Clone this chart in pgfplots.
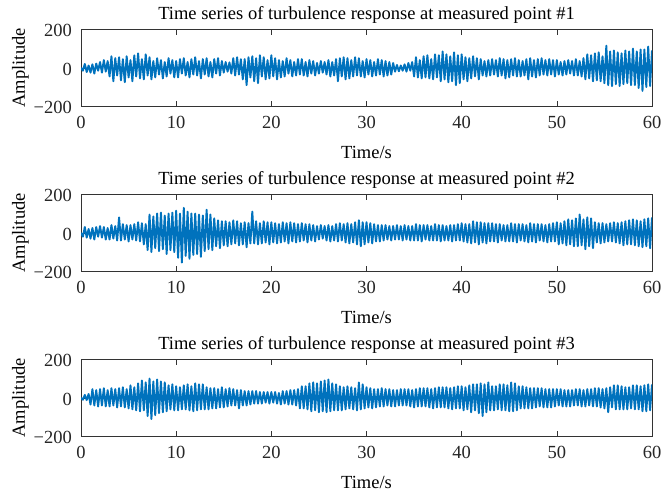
\documentclass[border=0pt]{standalone}
\usepackage{fontspec}
\setmainfont{Liberation Serif}
\usepackage{pgfplots}
\pgfplotsset{compat=1.18}
\definecolor{mblue}{rgb}{0,0.447,0.741}
\definecolor{axgray}{rgb}{0.2,0.2,0.2}
\pgfplotsset{myax/.style={
  width=571pt, height=77pt, scale only axis,
  anchor=north west,
  xmin=0, xmax=60, ymin=-200, ymax=200,
  xtick={0,10,20,30,40,50,60}, xticklabels={0,10,20,30,40,50,60},
  ytick={-200,0,200}, yticklabels={−200,0,200},
  /pgf/number format/assume math mode=true,
  tick align=inside, major tick length=5.5pt,
  axis line style={axgray, line width=0.8pt},
  tick style={axgray, line width=0.6pt},
  font=\fontsize{18.5}{21}\selectfont,
  tick label style={text=black!85},
  xticklabel style={anchor=base, inner sep=0pt, yshift=-22pt},
  yticklabel style={anchor=east, inner sep=0pt, xshift=-9pt, yshift=-1.5pt},
  title style={at={(axis description cs:0.5,1)}, anchor=base, yshift=4.3pt},
  xlabel style={at={(axis description cs:0.5,0)}, anchor=base, yshift=-52.3pt},
  ylabel style={at={([xshift=-56pt]axis description cs:0,0.5)}, anchor=base},
  xlabel={Time/s}, ylabel={Amplitude},
}, sig/.style={mblue, no markers, line width=1.9pt, line join=round}}
\begin{document}
\begin{tikzpicture}
\path[use as bounding box] (0pt,0pt) rectangle (661pt,-496pt);
\begin{axis}[myax, at={(81pt,-29.3pt)}, title={Time series of turbulence response at measured point \#1}]
\addplot[sig] table[x expr=\coordindex*0.2, y index=0, header=false, row sep=\\] {
0\\ -15\\ 20\\ -22\\ 12\\
-25\\ 18\\ -30\\ 22\\ -15\\
30\\ -25\\ 40\\ -20\\ 35\\
-45\\ 60\\ -70\\ 50\\ -40\\
55\\ -65\\ 45\\ -75\\ 60\\
-50\\ 40\\ -70\\ 65\\ -45\\
75\\ -55\\ 45\\ -60\\ 70\\
-40\\ 55\\ -60\\ 35\\ -50\\
50\\ -35\\ 40\\ -55\\ 30\\
-45\\ 50\\ -30\\ 40\\ -50\\
35\\ -50\\ 45\\ -30\\ 50\\
-40\\ 30\\ -50\\ 45\\ -35\\
55\\ -40\\ 35\\ -55\\ 45\\
-35\\ 50\\ -45\\ 30\\ -50\\
45\\ -30\\ 50\\ -40\\ 35\\
-25\\ 30\\ -20\\ 28\\ -30\\
50\\ -40\\ 55\\ -35\\ 45\\
-60\\ 45\\ -90\\ 55\\ -50\\
60\\ -70\\ 50\\ -80\\ 65\\
-45\\ 55\\ -60\\ 40\\ -55\\
65\\ -45\\ 50\\ -60\\ 40\\
-50\\ 35\\ -45\\ 50\\ -30\\
40\\ -45\\ 30\\ -40\\ 45\\
-35\\ 45\\ -40\\ 30\\ -45\\
40\\ -30\\ 35\\ -40\\ 25\\
-30\\ 35\\ -25\\ 30\\ -35\\
40\\ -45\\ 30\\ -40\\ 45\\
-70\\ 50\\ -45\\ 55\\ -60\\
50\\ -55\\ 40\\ -45\\ 55\\
-40\\ 50\\ -45\\ 35\\ -50\\
45\\ -35\\ 40\\ -45\\ 30\\
-40\\ 45\\ -35\\ 40\\ -45\\
35\\ -40\\ 30\\ -35\\ 25\\
-20\\ 15\\ -18\\ 12\\ -15\\
18\\ -20\\ 25\\ -15\\ 30\\
-45\\ 55\\ -50\\ 40\\ -55\\
60\\ -50\\ 65\\ -55\\ 45\\
-60\\ 70\\ -50\\ 65\\ -70\\
85\\ -60\\ 70\\ -75\\ 60\\
-70\\ 80\\ -90\\ 65\\ -80\\
70\\ -60\\ 55\\ -70\\ 50\\
-55\\ 60\\ -45\\ 50\\ -60\\
45\\ -40\\ 35\\ -45\\ 40\\
-40\\ 45\\ -35\\ 40\\ -45\\
50\\ -40\\ 45\\ -55\\ 40\\
-50\\ 45\\ -40\\ 50\\ -45\\
40\\ -45\\ 35\\ -40\\ 45\\
-60\\ 50\\ -45\\ 40\\ -50\\
45\\ -40\\ 50\\ -35\\ 40\\
-40\\ 45\\ -35\\ 40\\ -45\\
40\\ -35\\ 30\\ -40\\ 35\\
-35\\ 40\\ -30\\ 35\\ -40\\
45\\ -40\\ 35\\ -45\\ 50\\
-60\\ 70\\ -55\\ 65\\ -70\\
75\\ -65\\ 80\\ -70\\ 60\\
-80\\ 115\\ -90\\ 85\\ -95\\
90\\ -85\\ 80\\ -95\\ 75\\
-85\\ 90\\ -80\\ 85\\ -90\\
100\\ -90\\ 85\\ -105\\ 95\\
-120\\ 95\\ -100\\ 110\\ -95\\
90\\
};
\end{axis}
\begin{axis}[myax, at={(81pt,-194.3pt)}, title={Time series of turbulence response at measured point \#2}]
\addplot[sig] table[x expr=\coordindex*0.2, y index=0, header=false, row sep=\\] {
0\\ -20\\ 30\\ -25\\ 20\\
-30\\ 25\\ -35\\ 30\\ -20\\
35\\ -25\\ 30\\ -35\\ 25\\
-35\\ 40\\ -30\\ 35\\ -40\\
80\\ -40\\ 45\\ -35\\ 40\\
-45\\ 40\\ -35\\ 45\\ -40\\
55\\ -45\\ 50\\ -60\\ 45\\
-90\\ 95\\ -100\\ 85\\ -80\\
100\\ -95\\ 105\\ -85\\ 90\\
-110\\ 100\\ -90\\ 105\\ -100\\
115\\ -130\\ 100\\ -155\\ 130\\
-120\\ 110\\ -135\\ 100\\ -115\\
100\\ -110\\ 95\\ -125\\ 90\\
-95\\ 120\\ -85\\ 95\\ -90\\
75\\ -70\\ 65\\ -80\\ 60\\
-65\\ 60\\ -70\\ 55\\ -60\\
65\\ -55\\ 60\\ -65\\ 50\\
-60\\ 55\\ -75\\ 50\\ -55\\
110\\ -55\\ 60\\ -60\\ 50\\
-55\\ 60\\ -50\\ 55\\ -60\\
55\\ -50\\ 50\\ -55\\ 45\\
-50\\ 55\\ -45\\ 50\\ -55\\
55\\ -45\\ 50\\ -50\\ 45\\
-45\\ 50\\ -40\\ 45\\ -50\\
45\\ -40\\ 40\\ -45\\ 35\\
-35\\ 40\\ -30\\ 35\\ -40\\
40\\ -45\\ 35\\ -40\\ 45\\
-45\\ 50\\ -40\\ 45\\ -50\\
50\\ -55\\ 45\\ -50\\ 55\\
-60\\ 65\\ -70\\ 55\\ -60\\
55\\ -50\\ 50\\ -55\\ 45\\
-45\\ 40\\ -45\\ 40\\ -40\\
40\\ -35\\ 35\\ -40\\ 35\\
-35\\ 40\\ -35\\ 35\\ -40\\
40\\ -35\\ 35\\ -40\\ 35\\
-40\\ 45\\ -40\\ 40\\ -45\\
40\\ -35\\ 40\\ -40\\ 35\\
-40\\ 45\\ -40\\ 40\\ -45\\
40\\ -40\\ 35\\ -40\\ 40\\
-45\\ 40\\ -40\\ 45\\ -40\\
50\\ -45\\ 45\\ -50\\ 45\\
-55\\ 60\\ -50\\ 55\\ -60\\
55\\ -50\\ 50\\ -55\\ 50\\
-45\\ 50\\ -45\\ 45\\ -50\\
45\\ -40\\ 40\\ -45\\ 40\\
-45\\ 50\\ -45\\ 45\\ -50\\
45\\ -40\\ 45\\ -45\\ 40\\
-50\\ 50\\ -45\\ 45\\ -50\\
45\\ -40\\ 45\\ -45\\ 40\\
-50\\ 45\\ -45\\ 50\\ -45\\
55\\ -60\\ 50\\ -55\\ 60\\
-65\\ 70\\ -60\\ 65\\ -70\\
75\\ -70\\ 95\\ -65\\ 70\\
-85\\ 80\\ -70\\ 75\\ -80\\
55\\ -50\\ 50\\ -55\\ 50\\
-50\\ 45\\ -45\\ 50\\ -45\\
55\\ -50\\ 50\\ -55\\ 55\\
-65\\ 60\\ -60\\ 65\\ -60\\
70\\ -65\\ 65\\ -70\\ 60\\
-75\\ 70\\ -70\\ 75\\ -80\\
80\\
};
\end{axis}
\begin{axis}[myax, at={(81pt,-359.3pt)}, title={Time series of turbulence response at measured point \#3}]
\addplot[sig] table[x expr=\coordindex*0.2, y index=0, header=false, row sep=\\] {
0\\ -10\\ 15\\ -12\\ 20\\
-35\\ 45\\ -40\\ 40\\ -45\\
45\\ -40\\ 50\\ -45\\ 40\\
-45\\ 50\\ -40\\ 45\\ -50\\
50\\ -45\\ 55\\ -50\\ 45\\
-55\\ 65\\ -60\\ 55\\ -65\\
75\\ -70\\ 90\\ -65\\ 80\\
-95\\ 100\\ -110\\ 85\\ -90\\
95\\ -80\\ 85\\ -75\\ 80\\
-70\\ 65\\ -60\\ 70\\ -65\\
60\\ -65\\ 55\\ -60\\ 65\\
-60\\ 70\\ -65\\ 60\\ -70\\
75\\ -65\\ 70\\ -60\\ 70\\
-60\\ 55\\ -60\\ 50\\ -55\\
50\\ -55\\ 45\\ -50\\ 55\\
-50\\ 45\\ -45\\ 50\\ -40\\
45\\ -40\\ 40\\ -55\\ 40\\
-40\\ 35\\ -40\\ 35\\ -35\\
35\\ -30\\ 35\\ -30\\ 30\\
-30\\ 30\\ -25\\ 30\\ -30\\
30\\ -25\\ 30\\ -30\\ 25\\
-35\\ 35\\ -30\\ 35\\ -35\\
40\\ -35\\ 40\\ -40\\ 45\\
-55\\ 60\\ -55\\ 60\\ -60\\
75\\ -70\\ 80\\ -65\\ 75\\
-75\\ 85\\ -70\\ 90\\ -75\\
95\\ -70\\ 75\\ -65\\ 70\\
-65\\ 60\\ -65\\ 55\\ -60\\
60\\ -55\\ 55\\ -60\\ 50\\
-65\\ 80\\ -60\\ 70\\ -55\\
55\\ -50\\ 50\\ -55\\ 45\\
-50\\ 45\\ -45\\ 50\\ -45\\
45\\ -40\\ 45\\ -45\\ 40\\
-45\\ 40\\ -40\\ 45\\ -40\\
45\\ -40\\ 45\\ -45\\ 40\\
-50\\ 45\\ -45\\ 50\\ -45\\
50\\ -45\\ 50\\ -50\\ 45\\
-55\\ 50\\ -50\\ 55\\ -50\\
55\\ -50\\ 55\\ -55\\ 50\\
-60\\ 55\\ -55\\ 60\\ -55\\
60\\ -65\\ 55\\ -60\\ 65\\
-75\\ 70\\ -65\\ 70\\ -80\\
75\\ -95\\ 70\\ -75\\ 80\\
-65\\ 60\\ -65\\ 60\\ -60\\
70\\ -65\\ 70\\ -65\\ 65\\
-70\\ 80\\ -70\\ 75\\ -65\\
60\\ -55\\ 60\\ -55\\ 55\\
-55\\ 50\\ -55\\ 50\\ -50\\
50\\ -45\\ 50\\ -50\\ 45\\
-50\\ 45\\ -50\\ 45\\ -45\\
45\\ -40\\ 45\\ -45\\ 40\\
-45\\ 40\\ -45\\ 40\\ -40\\
45\\ -40\\ 45\\ -45\\ 40\\
-45\\ 45\\ -40\\ 45\\ -45\\
50\\ -45\\ 50\\ -50\\ 45\\
-55\\ 50\\ -75\\ 55\\ -50\\
65\\ -60\\ 65\\ -60\\ 60\\
-60\\ 55\\ -60\\ 55\\ -55\\
65\\ -60\\ 65\\ -60\\ 60\\
-70\\ 65\\ -70\\ 70\\ -65\\
70\\
};
\end{axis}
\end{tikzpicture}
\end{document}
